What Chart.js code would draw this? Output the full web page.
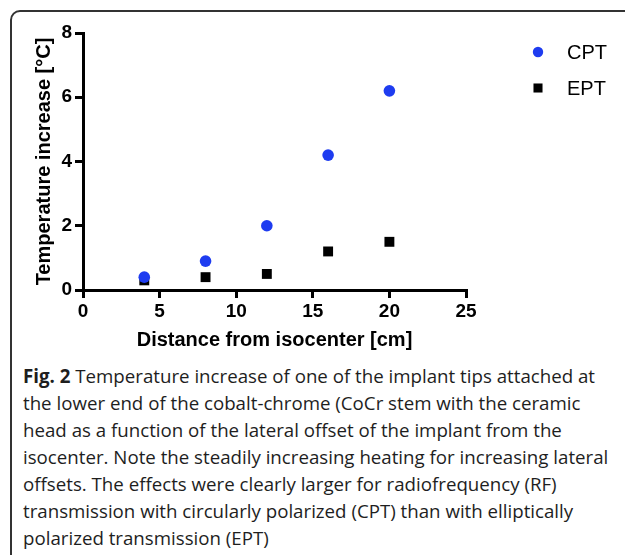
<!DOCTYPE html>
<html>
<head>
<meta charset="utf-8">
<script src="https://cdn.jsdelivr.net/npm/chart.js@4"></script>
<style>
  html, body { margin: 0; padding: 0; background: #fff; }
  body { width: 625px; height: 555px; position: relative; overflow: hidden; }
  #frame {
    position: absolute; left: 10px; top: 10px; width: 640px; height: 570px;
    border: 2px solid #333; border-radius: 10px; box-sizing: border-box;
  }
  #chartBox { position: absolute; left: 0; top: 0; width: 625px; height: 360px; }
  #caption {
    position: absolute; left: 23px; top: 362px; width: 600px;
    font-family: "Open Sans", sans-serif; font-size: 18.7px; line-height: 27px;
    color: #1e1e1e; white-space: nowrap;
  }
</style>
</head>
<body>
<div id="frame"></div>
<div id="chartBox"><canvas id="scatterChart"></canvas></div>
<div id="caption"><b>Fig. 2</b> Temperature increase of one of the implant tips attached at<br>the lower end of the cobalt-chrome (CoCr stem with the ceramic<br>head as a function of the lateral offset of the implant from the<br>isocenter. Note the steadily increasing heating for increasing lateral<br>offsets. The effects were clearly larger for radiofrequency (RF)<br>transmission with circularly polarized (CPT) than with elliptically<br>polarized transmission (EPT)</div>

<script>
// Datos
const distances = [4, 8, 12, 16, 20];
const cptValues = [0.4, 0.9, 2.0, 4.2, 6.2];
const eptValues = [0.3, 0.4, 0.5, 1.2, 1.5];
const seriesNames = ['CPT', 'EPT'];

const FONT = '"Liberation Sans", Arial, sans-serif';
Chart.defaults.font.family = FONT;

// Leyenda a la derecha, dibujada con los estilos de cada dataset
const sideLegend = {
    id: 'sideLegend',
    afterDraw(chart) {
        const ctx = chart.ctx;
        chart.data.datasets.forEach((ds, i) => {
            const y = 52 + i * 36;
            ctx.save();
            ctx.fillStyle = ds.backgroundColor;
            Chart.helpers.drawPoint(ctx, {
                pointStyle: ds.pointStyle,
                radius: ds.pointStyle === 'rect' ? 6.4 : 5.2,
                rotation: 0,
                borderWidth: 0
            }, 538, y);
            ctx.fillStyle = '#000';
            ctx.font = '20px ' + FONT;
            ctx.textBaseline = 'middle';
            ctx.fillText(ds.label, 567, y + 1);
            ctx.restore();
        });
    }
};

function toPoints(values) {
    return distances.map((d, i) => ({ x: d, y: values[i] }));
}

const tickFont = { family: FONT, size: 19, weight: 'bold' };
const titleFont = { family: FONT, size: 20, weight: 'bold' };

const ctx = document.getElementById('scatterChart').getContext('2d');
const scatterChart = new Chart(ctx, {
    type: 'scatter',
    data: {
        datasets: [
            {
                label: seriesNames[0],
                data: toPoints(cptValues),
                pointStyle: 'circle',
                pointRadius: 5.8,
                backgroundColor: '#1e3cf0',
                borderWidth: 0
            },
            {
                label: seriesNames[1],
                data: toPoints(eptValues),
                pointStyle: 'rect',
                pointRadius: 7,
                backgroundColor: '#000000',
                borderWidth: 0
            }
        ]
    },
    options: {
        responsive: true,
        maintainAspectRatio: false,
        animation: false,
        layout: { padding: { left: 0, top: 33, right: 159, bottom: 0 } },
        plugins: {
            legend: { display: false },
            tooltip: { enabled: false }
        },
        scales: {
            x: {
                type: 'linear',
                min: 0,
                max: 25,
                afterFit: (scale) => { scale.height = 70; },
                ticks: { stepSize: 5, color: '#000', padding: 2, font: tickFont },
                grid: { drawOnChartArea: false, drawTicks: true, tickLength: 8, color: '#000', lineWidth: 3 },
                border: { display: true, color: '#000', width: 3 },
                title: {
                    display: true,
                    text: 'Distance from isocenter [cm]',
                    color: '#000',
                    font: titleFont,
                    padding: { top: 0, bottom: 8 }
                }
            },
            y: {
                min: 0,
                max: 8,
                afterFit: (scale) => { scale.width = 83; },
                ticks: { stepSize: 2, color: '#000', padding: 3, font: tickFont },
                grid: { drawOnChartArea: false, drawTicks: true, tickLength: 8, color: '#000', lineWidth: 3 },
                border: { display: true, color: '#000', width: 3 },
                title: {
                    display: true,
                    text: 'Temperature increase [°C]',
                    color: '#000',
                    font: titleFont,
                    padding: { top: 32, bottom: 0 }
                }
            }
        }
    },
    plugins: [sideLegend]
});
</script>
</body>
</html>
